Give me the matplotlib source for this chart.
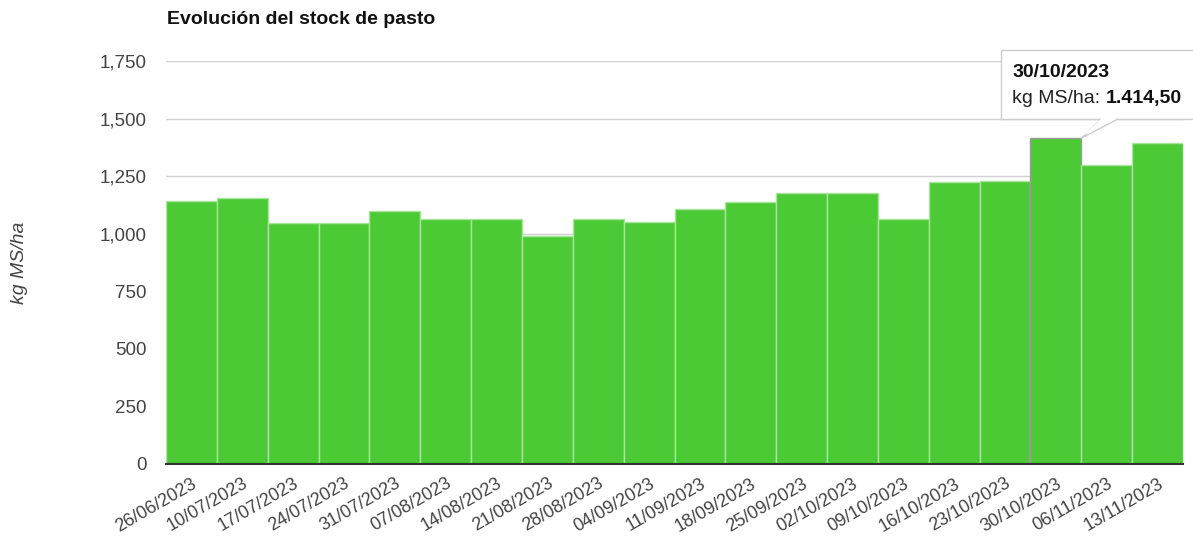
import matplotlib
matplotlib.use("Agg")
import matplotlib.pyplot as plt
from matplotlib.patches import Polygon, Rectangle

plt.rcParams["font.family"] = ["Liberation Sans", "DejaVu Sans"]

# data
fechas = ["26/06/2023", "10/07/2023", "17/07/2023", "24/07/2023", "31/07/2023",
          "07/08/2023", "14/08/2023", "21/08/2023", "28/08/2023", "04/09/2023",
          "11/09/2023", "18/09/2023", "25/09/2023", "02/10/2023", "09/10/2023",
          "16/10/2023", "23/10/2023", "30/10/2023", "06/11/2023", "13/11/2023"]
stock = [1142, 1155, 1046, 1046, 1099, 1064, 1064, 990, 1064, 1051,
         1107, 1138, 1177, 1177, 1064, 1225, 1229, 1414.5, 1298, 1394]
y_ticks = [0, 250, 500, 750, 1000, 1250, 1500, 1750]
hover_idx = 17

GREEN = "#4bca35"
EDGE = "#a8e49c"
GRID = "#d0d0d0"
TXT = "#444444"

W, H, DPI = 1193, 544, 100
fig = plt.figure(figsize=(W / DPI, H / DPI), dpi=DPI)
fig.patch.set_facecolor("white")
ax = fig.add_axes([166 / W, 1 - 464 / H, (1183 - 166) / W, (464 - 61) / H])

x = list(range(len(stock)))
edges = ["#9a9a9a" if i == hover_idx else EDGE for i in x]
ax.bar(x, stock, width=1.0, color=GREEN, edgecolor=edges, linewidth=1.0, zorder=2)

ax.set_xlim(-0.5, len(stock) - 0.5)
ax.set_ylim(0, 1750)
ax.set_yticks(y_ticks)
ax.set_yticklabels([f"{v:,}" for v in y_ticks])
ax.yaxis.grid(True, color=GRID, linewidth=1.0, zorder=0)
ax.set_axisbelow(True)
for s in ("left", "right", "top"):
    ax.spines[s].set_visible(False)
ax.spines["bottom"].set_color("#333333")
ax.spines["bottom"].set_linewidth(1.5)
ax.spines["bottom"].set_zorder(3)
ax.tick_params(axis="both", length=0, colors=TXT, labelsize=13.5)
ax.tick_params(axis="x", labelsize=13)
ax.tick_params(axis="y", pad=14)
ax.tick_params(axis="x", pad=8)
ax.set_xticks(x)
ax.set_xticklabels(fechas, rotation=30, ha="right", va="top", rotation_mode="anchor")

ax.set_ylabel("kg MS/ha", fontstyle="italic", color=TXT, fontsize=14)
ax.yaxis.set_label_coords(-0.136, 0.5)

fig.text(167 / W, 1 - 20 / H, "Evolución del stock de pasto", fontsize=14,
         fontweight="bold", color="#111111", va="center", ha="left")

# tooltip for the hovered bar, anchored at the bar's top-right corner
tip = ax.transData.transform((hover_idx + 0.5, stock[hover_idx]))
to_fig = fig.transFigure.inverted()
bx0, by0 = tip[0] - 80, tip[1] + 19
bx1, by1 = W + 10, tip[1] + 88
box = Rectangle(to_fig.transform((bx0, by0)),
                *(to_fig.transform((bx1, by1)) - to_fig.transform((bx0, by0))),
                transform=fig.transFigure, facecolor="white", edgecolor="#cccccc",
                linewidth=1.0, zorder=10)
fig.add_artist(box)
pointer = Polygon([to_fig.transform(p) for p in
                   [(tip[0] + 20, by0 + 0.5), tip, (tip[0] + 37, by0 + 0.5)]],
                  closed=False, transform=fig.transFigure, facecolor="white",
                  edgecolor="#cccccc", linewidth=1.0, zorder=11)
fig.add_artist(pointer)
fig.add_artist(Polygon([to_fig.transform(p) for p in
                        [(tip[0] + 21, by0 + 1.5), (tip[0] + 2, tip[1] + 3), (tip[0] + 36, by0 + 1.5)]],
                       transform=fig.transFigure, facecolor="white", edgecolor="none", zorder=12))

tx, ty = to_fig.transform((bx0 + 11, by1 - 22))
fig.text(tx, ty, fechas[hover_idx], fontsize=14, fontweight="bold", color="#111111",
         va="center", ha="left", zorder=13)
tx2, ty2 = to_fig.transform((bx0 + 11, by1 - 48))
lbl = fig.text(tx2, ty2, "kg MS/ha: ", fontsize=14, color="#222222",
               va="center", ha="left", zorder=13)
val = f"{stock[hover_idx]:,.2f}".replace(",", "X").replace(".", ",").replace("X", ".")
fig.add_artist(plt.Annotation(val, xy=(1, 0.5), xycoords=lbl, va="center", ha="left",
                              fontsize=14, fontweight="bold", color="#111111", zorder=13))

fig.savefig("out.png", dpi=DPI, facecolor="white")
